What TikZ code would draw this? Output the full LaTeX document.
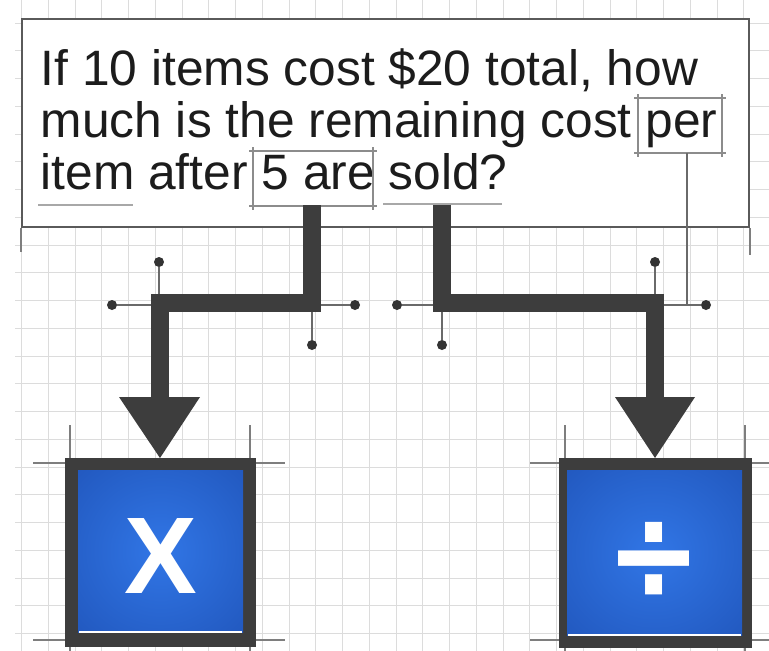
\documentclass[tikz,border=0pt]{standalone}
\usepackage{fontspec}
\setmainfont{Liberation Sans}
\newfontfamily\symfont{DejaVu Sans}
\definecolor{ink}{HTML}{1C1C1C}
\definecolor{pipec}{HTML}{3D3D3D}
\definecolor{gridc}{HTML}{DCDCDC}
\definecolor{guidec}{HTML}{8C8C8C}
\definecolor{underc}{HTML}{A8A8A8}
\definecolor{thinc}{HTML}{6A6A6A}
\definecolor{knobc}{HTML}{333333}
\definecolor{blueIn}{HTML}{3176E6}
\definecolor{blueMid}{HTML}{1C4DB0}
\definecolor{blueOut}{HTML}{163E95}
\pgfdeclareradialshading{bluerad}{\pgfpoint{0bp}{0bp}}{color(0bp)=(blueIn); color(50bp)=(blueMid); color(72bp)=(blueOut)}
\tikzset{
  gridline/.style={draw=gridc, line width=1},
  guideline/.style={draw=guidec, line width=1.2},
  extline/.style={draw=guidec!90!black, line width=1.6},
  underline/.style={draw=underc, line width=2},
  thinline/.style={draw=thinc, line width=1.3},
  pipeline/.style={draw=pipec, line width=18, line join=miter, line cap=butt},
  knob/.style={circle, fill=knobc, inner sep=0, minimum size=10},
  qline/.style={anchor=base west, inner sep=0, text=ink, font=\fontsize{49.7}{52}\selectfont},
  frame/.style={fill=pipec, inner sep=0, anchor=north west},
  opsym/.style={text=white, inner sep=0}
}
\begin{document}
\begin{tikzpicture}[x=1pt,y=-1pt]
\useasboundingbox (0,0) rectangle (769,651);
\fill[white] (0,0) rectangle (769,651);
% background grid
\foreach \k in {-2,...,25} \draw[gridline] ({75+26.75*\k},0) -- ({75+26.75*\k},651);
\foreach \k in {-8,...,14} \draw[gridline] (15,{245+27.75*\k}) -- (769,{245+27.75*\k});

% question box
\node[draw=pipec!85!white, line width=2, fill=white, inner sep=0, anchor=north west,
      minimum width=727, minimum height=208] (q) at (21,18) {};
\draw[extline] (q.south west) -- ++(0,24);
\draw[extline] (q.south east) -- ++(0,27);

\node[qline] (l1) at (40.5,85) {If 10 items cost \$20 total, how};
\node[qline] (l2) at (40.5,137.5) {much is the remaining cost per};
\node[qline] (l3) at (40.5,189) {item after 5 are sold?};

% underlines
\draw[underline] (38,205) -- (133,205);
\draw[underline] (383,204) -- (502,204);

% highlight box "5 are"
\draw[guideline] (249,151) -- (377,151);
\draw[guideline] (249,206) -- (377,206);
\draw[guideline] (253,147) -- (253,210);
\draw[guideline] (373,147) -- (373,210);
% highlight box "per"
\draw[guideline] (634,98) -- (726,98);
\draw[guideline] (634,153) -- (726,153);
\draw[guideline] (638,94) -- (638,157);
\draw[guideline] (722,94) -- (722,157);

% operator boxes (extension lines first)
\draw[extline] (70,425) -- (70,651);
\draw[extline] (250,425) -- (250,651);
\draw[extline] (33,463) -- (285,463);
\draw[extline] (33,640) -- (285,640);
\draw[extline] (565,425) -- (565,651);
\draw[extline] (745,425) -- (745,651);
\draw[extline] (530,463) -- (769,463);
\draw[extline] (530,640) -- (769,640);

\node[frame, minimum width=191, minimum height=189] (mul) at (65,458) {};
\shade[shading=bluerad] (78,470) rectangle (243,632);
\draw[white, line width=1.5] (79,632) -- (242,632);
\node[opsym, anchor=base, font=\fontsize{109}{109}\selectfont\bfseries] (mx) at (161,593) {X};

\node[frame, minimum width=193, minimum height=190] (div) at (559,458) {};
\shade[shading=bluerad] (567,470) rectangle (742,635);
\draw[white, line width=1.5] (568,635) -- (741,635);
\node[opsym, font=\symfont\bfseries\fontsize{126}{126}\selectfont] (dv) at (654,561) {\scalebox{0.9}[1.06]{÷}};

% connector coordinates
\coordinate (sL) at (312,205);
\coordinate (cL) at (312,303);
\coordinate (bL) at (160,303);
\coordinate (eL) at (160,398);
\coordinate (sR) at (442,205);
\coordinate (cR) at (442,303);
\coordinate (bR) at (655,303);
\coordinate (eR) at (655,398);

% thin lines with knobs
\node[knob] (k1) at (159,262) {};
\node[knob] (k2) at (112,305) {};
\node[knob] (k3) at (355,305) {};
\node[knob] (k4) at (312,345) {};
\node[knob] (k5) at (397,305) {};
\node[knob] (k6) at (442,345) {};
\node[knob] (k7) at (655,262) {};
\node[knob] (k8) at (706,305) {};
\draw[thinline] (k1) -- (159,300);
\draw[thinline] (k2) -- (156,305);
\draw[thinline] (k3) -- (318,305);
\draw[thinline] (k4) -- (312,308);
\draw[thinline] (k5) -- (437,305);
\draw[thinline] (k6) -- (442,308);
\draw[thinline] (k7) -- (655,300);
\draw[thinline] (k8) -- (660,305);
\draw[thinline] (687,153) -- (687,305);

% thick connectors
\draw[pipeline] (sL) -- (cL) -- (bL) -- (eL);
\draw[pipeline] (sR) -- (cR) -- (bR) -- (eR);
\fill[pipec] (119,397) -- (200,397) -- (mul.north -| eL) -- cycle;
\fill[pipec] (615,397) -- (695,397) -- (div.north -| eR) -- cycle;
\end{tikzpicture}
\end{document}
